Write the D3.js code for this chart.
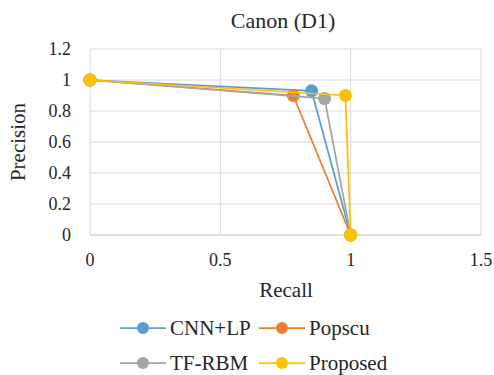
<!DOCTYPE html>
<html>
<head>
<meta charset="utf-8">
<script src="https://cdn.jsdelivr.net/npm/d3@7"></script>
<style>
  body { margin: 0; background: #fff; }
</style>
</head>
<body>
<div id="chart"></div>
<script>
// series data
var seriesNames = ["CNN+LP", "Popscu", "TF-RBM", "Proposed"];
var seriesColors = ["#5B9BD5", "#ED7D31", "#A5A5A5", "#FFC000"];
var recallCNN = [0, 0.85, 1];
var precisionCNN = [1, 0.93, 0];
var recallPopscu = [0, 0.78, 1];
var precisionPopscu = [1, 0.9, 0];
var recallTF = [0, 0.9, 1];
var precisionTF = [1, 0.88, 0];
var recallProposed = [0, 0.98, 1];
var precisionProposed = [1, 0.9, 0];
var xTicks = [0, 0.5, 1, 1.5];
var yTicks = [0, 0.2, 0.4, 0.6, 0.8, 1, 1.2];

var FONT = "'Liberation Serif', Tinos, 'Times New Roman', serif";

function init() {
    var w = 494;
    var h = 375;
    var left = 90, right = 481, top = 49, bottom = 235;

    var x = d3.scaleLinear().domain([0, 1.5]).range([left, right]);
    var y = d3.scaleLinear().domain([0, 1.2]).range([bottom, top]);

    var svg = d3.select("#chart").append("svg")
                .attr("width", w)
                .attr("height", h);

    //title
    svg.append("text")
        .attr("x", 283).attr("y", 28)
        .attr("text-anchor", "middle")
        .style("font-family", FONT)
        .style("font-size", "22px")
        .style("fill", "#262626")
        .text("Canon (D1)");

    //gridlines
    svg.append("g").selectAll("line")
        .data(yTicks.slice(1))
        .enter().append("line")
        .attr("x1", left).attr("x2", right)
        .attr("y1", function(d) { return y(d); })
        .attr("y2", function(d) { return y(d); })
        .style("stroke", "#D9D9D9");

    svg.append("g").selectAll("line")
        .data(xTicks)
        .enter().append("line")
        .attr("x1", function(d) { return x(d); })
        .attr("x2", function(d) { return x(d); })
        .attr("y1", top).attr("y2", bottom)
        .style("stroke", "#D9D9D9");

    //bottom axis line
    svg.append("line")
        .attr("x1", left).attr("x2", right)
        .attr("y1", y(0)).attr("y2", y(0))
        .style("stroke", "#BFBFBF");

    //tick labels
    svg.append("g").selectAll("text")
        .data(yTicks)
        .enter().append("text")
        .attr("x", 71)
        .attr("y", function(d) { return y(d) + 6; })
        .attr("text-anchor", "end")
        .style("font-family", FONT)
        .style("font-size", "18px")
        .style("fill", "#262626")
        .text(function(d) { return d; });

    svg.append("g").selectAll("text")
        .data(xTicks)
        .enter().append("text")
        .attr("x", function(d) { return x(d); })
        .attr("y", 266)
        .attr("text-anchor", "middle")
        .style("font-family", FONT)
        .style("font-size", "18px")
        .style("fill", "#262626")
        .text(function(d) { return d; });

    //axis titles
    svg.append("text")
        .attr("x", 286).attr("y", 297)
        .attr("text-anchor", "middle")
        .style("font-family", FONT)
        .style("font-size", "21px")
        .style("fill", "#262626")
        .text("Recall");

    svg.append("text")
        .attr("transform", "translate(25," + ((top + bottom) / 2) + ") rotate(-90)")
        .attr("text-anchor", "middle")
        .style("font-family", FONT)
        .style("font-size", "21px")
        .style("fill", "#262626")
        .text("Precision");

    //lines and markers
    var data = [
        [recallCNN, precisionCNN],
        [recallPopscu, precisionPopscu],
        [recallTF, precisionTF],
        [recallProposed, precisionProposed]
    ].map(function(s, i) {
        return {
            name: seriesNames[i],
            color: seriesColors[i],
            points: s[0].map(function(r, j) { return [r, s[1][j]]; })
        };
    });

    var line = d3.line()
                 .x(function(d) { return x(d[0]); })
                 .y(function(d) { return y(d[1]); });

    data.forEach(function(s) {
        var g = svg.append("g");
        g.append("path")
            .attr("d", line(s.points))
            .style("fill", "none")
            .style("stroke", s.color)
            .style("stroke-width", 1.75);
        g.selectAll("circle")
            .data(s.points)
            .enter().append("circle")
            .attr("cx", function(d) { return x(d[0]); })
            .attr("cy", function(d) { return y(d[1]); })
            .attr("r", 6.5)
            .style("fill", s.color);
    });

    //legend
    var legendPos = [[120, 328], [259, 328], [120, 363], [259, 363]];
    data.forEach(function(s, i) {
        var p = legendPos[i];
        var g = svg.append("g").attr("transform", "translate(" + p[0] + "," + p[1] + ")");
        g.append("line")
            .attr("x1", 0).attr("x2", 46)
            .style("stroke", s.color)
            .style("stroke-width", 1.75);
        g.append("circle")
            .attr("cx", 23).attr("r", 6)
            .style("fill", s.color);
        g.append("text")
            .attr("x", 50).attr("y", 7)
            .style("font-family", FONT)
            .style("font-size", "21px")
            .style("fill", "#262626")
            .text(s.name);
    });
}

window.onload = init;
</script>
</body>
</html>
